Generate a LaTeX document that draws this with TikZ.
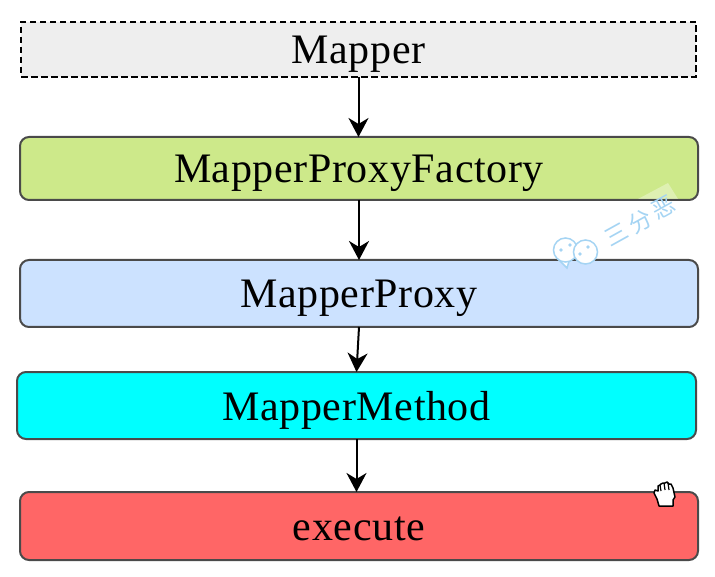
\documentclass[tikz,border=0pt]{standalone}
\usepackage{fontspec}
\newfontfamily\cjkfont[LetterSpace=18]{Noto Sans CJK SC}
\newfontfamily\boxfont[LetterSpace=1.5]{Liberation Serif}
\usetikzlibrary{arrows.meta}
\definecolor{mappergray}{HTML}{EEEEEE}
\definecolor{factorygreen}{HTML}{CDE98A}
\definecolor{proxyblue}{HTML}{CCE2FF}
\definecolor{methodcyan}{HTML}{00FFFF}
\definecolor{executered}{HTML}{FF6666}
\definecolor{boxedge}{HTML}{4A4A4A}
\definecolor{markblue}{HTML}{A5D4F3}
\tikzset{
    boxlabel/.style={outer sep=0pt, inner sep=0pt, text height=34pt, text depth=5pt,
        font=\boxfont\fontsize{42}{44}\selectfont},
    layerbox/.style={boxlabel, draw=boxedge, line width=2pt, rounded corners=9pt, minimum width=678pt},
    mapperbox/.style={boxlabel, draw=black, line width=2pt, dash pattern=on 6.5pt off 3.5pt, fill=mappergray,
        minimum width=675pt, minimum height=55pt},
    flow/.style={->, line width=2pt},
    markline/.style={draw=markblue, line width=1.5pt, fill=white}
}
\begin{document}
\begin{tikzpicture}[x=1pt, y=-1pt, >={Stealth[length=19pt,width=20pt,inset=6pt]}]
    \useasboundingbox (0,0) rectangle (715,577);

    % Layers
    \node[mapperbox] (mapper) at (358.5,49.5) {Mapper};
    \node[layerbox, fill=factorygreen, minimum height=63pt] (factory) at (359,168.5) {MapperProxyFactory};
    \node[layerbox, fill=proxyblue, minimum height=67pt] (proxy) at (359,293.5) {MapperProxy};
    \node[layerbox, fill=methodcyan, minimum width=679pt, minimum height=67pt] (method) at (356.5,405.5) {MapperMethod};
    \node[layerbox, fill=executered, minimum height=68pt] (execute) at (359,526) {execute};

    % Calls
    \draw[flow] (mapper.south) -- (factory.north -| mapper.south);
    \draw[flow] (factory.south) -- (proxy.north);
    \draw[flow] (proxy.south) -- (method.north);
    \draw[flow] (method.south) -- (execute.north -| method.south);

    % Watermark
    \fill[white, opacity=.35] (638,199) -- (668,183) -- (678,199) -- cycle;
    \draw[markline] (557,258) -- (567,268) -- (570,258);
    \draw[markline] (565.5,250) circle (12);
    \draw[markline] (585.5,252) circle (12);
    \fill[markblue] (561,250) circle (1.8) (570,245) circle (1.8)
        (580,254) circle (1.8) (588,247) circle (1.8);
    \node[text=markblue, rotate=29, font=\cjkfont\fontsize{23}{23}\selectfont] (mark) at (640,221) {三分恶};

    % Hand cursor
    \draw[fill=white, line width=1.5pt, line join=round]
        (659,506) -- (657,499) -- (654,493) -- (655,490) -- (658,491)
        -- (658,486) -- (660,485) -- (661,484) -- (663,483) -- (665,483)
        -- (667,482) -- (669,484) -- (671,484) -- (673,488) -- (675,497)
        -- (673,500) -- (673,506) -- cycle;
    \draw[line width=1.2pt] (661,491) -- (660,485) (665,490) -- (664,483) (669,490) -- (668,483);
\end{tikzpicture}
\end{document}
